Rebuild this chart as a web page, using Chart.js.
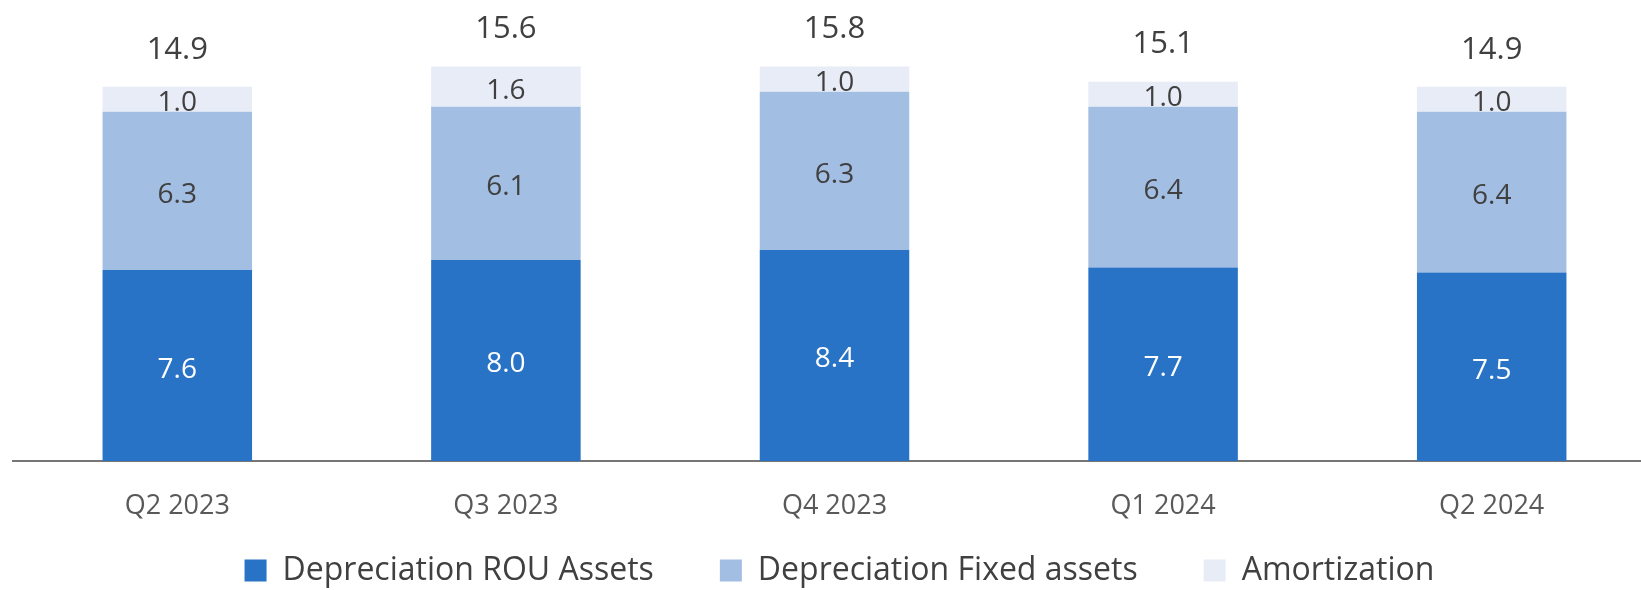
<!DOCTYPE html>
<html>
<head>
<meta charset="utf-8">
<script src="https://cdn.jsdelivr.net/npm/chart.js@4/dist/chart.umd.min.js"></script>
<style>
  html, body { margin: 0; padding: 0; background: #fff; overflow: hidden; }
  #wrap { position: relative; width: 1670px; height: 596px; }
</style>
</head>
<body>
<div id="wrap"><canvas id="c"></canvas></div>
<script>
const categories = ['Q2 2023', 'Q3 2023', 'Q4 2023', 'Q1 2024', 'Q2 2024'];
const depreciationROU = [7.6, 8.0, 8.4, 7.7, 7.5];
const depreciationFixed = [6.3, 6.1, 6.3, 6.4, 6.4];
const amortization = [1.0, 1.6, 1.0, 1.0, 1.0];
const totals = [14.9, 15.6, 15.8, 15.1, 14.9];
const seriesNames = ['Depreciation ROU Assets', 'Depreciation Fixed assets', 'Amortization'];

const FONT = "'Open Sans', 'DejaVu Sans', sans-serif";
const LEGEND_FONT_SIZE = 32;
const LEGEND_PADDING = 66;
const LEGEND_CENTER_Y = 570.5;
const LEGEND_SHIFT_X = 5;
const X_AXIS_HEIGHT = 62;
const LEGEND_HEIGHT = 596 - 461 - X_AXIS_HEIGHT;

const labelPlugin = {
  id: 'barLabels',
  beforeLayout(chart) {
    const L = chart.legend;
    if (L && !L._fitPatched) {
      const origFit = L.fit;
      L.fit = function () { origFit.call(this); this.height = LEGEND_HEIGHT; };
      L._fitPatched = true;
    }
  },
  afterLayout(chart) {
    const L = chart.legend;
    if (!L) return;
    const wantTop = LEGEND_CENTER_Y - LEGEND_PADDING - LEGEND_FONT_SIZE / 2;
    const bottom = chart.height;
    L.top = wantTop;
    L.bottom = bottom;
    L.height = bottom - wantTop;
    L.left += LEGEND_SHIFT_X;
    L.right += LEGEND_SHIFT_X;
  },
  afterDatasetsDraw(chart) {
    const ctx = chart.ctx;
    ctx.save();
    ctx.textAlign = 'center';
    ctx.textBaseline = 'middle';
    const colors = ['#ffffff', '#404040', '#404040'];
    chart.data.datasets.forEach((ds, di) => {
      const meta = chart.getDatasetMeta(di);
      meta.data.forEach((bar, i) => {
        const v = ds.data[i];
        ctx.fillStyle = colors[di];
        ctx.font = "28px " + FONT;
        const cy = (bar.y + bar.base) / 2 + 4;
        ctx.fillText(v.toFixed(1), bar.x, cy);
      });
    });
    const lastMeta = chart.getDatasetMeta(chart.data.datasets.length - 1);
    lastMeta.data.forEach((bar, i) => {
      ctx.fillStyle = '#404040';
      ctx.font = "31px " + FONT;
      ctx.fillText(totals[i].toFixed(1), bar.x, bar.y - 37);
    });
    ctx.restore();
  }
};

new Chart(document.getElementById('c'), {
  type: 'bar',
  data: {
    labels: categories,
    datasets: [
      { label: seriesNames[0], data: depreciationROU, backgroundColor: '#2973C6' },
      { label: seriesNames[1], data: depreciationFixed, backgroundColor: '#A2BEE2' },
      { label: seriesNames[2], data: amortization, backgroundColor: '#E8ECF7' }
    ]
  },
  options: {
    responsive: true,
    maintainAspectRatio: false,
    animation: false,
    devicePixelRatio: 1,
    layout: { padding: { left: 13, right: 14, top: 0, bottom: 0 } },
    datasets: { bar: { categoryPercentage: 1.0, barPercentage: 0.455, borderWidth: 0 } },
    scales: {
      x: {
        stacked: true,
        grid: { display: false, drawTicks: false },
        border: { display: true, color: '#767676', width: 2 },
        ticks: { color: '#595959', font: { family: FONT, size: 27 }, padding: 29 },
        afterFit(scale) { scale.height = X_AXIS_HEIGHT; }
      },
      y: {
        stacked: true,
        display: false,
        min: 0,
        max: 18.35
      }
    },
    plugins: {
      legend: {
        position: 'bottom',
        labels: {
          boxWidth: 22,
          boxHeight: 22,
          padding: LEGEND_PADDING,
          color: '#404040',
          font: { family: FONT, size: LEGEND_FONT_SIZE }
        }
      },
      tooltip: { enabled: false }
    }
  },
  plugins: [labelPlugin]
});
</script>
</body>
</html>
